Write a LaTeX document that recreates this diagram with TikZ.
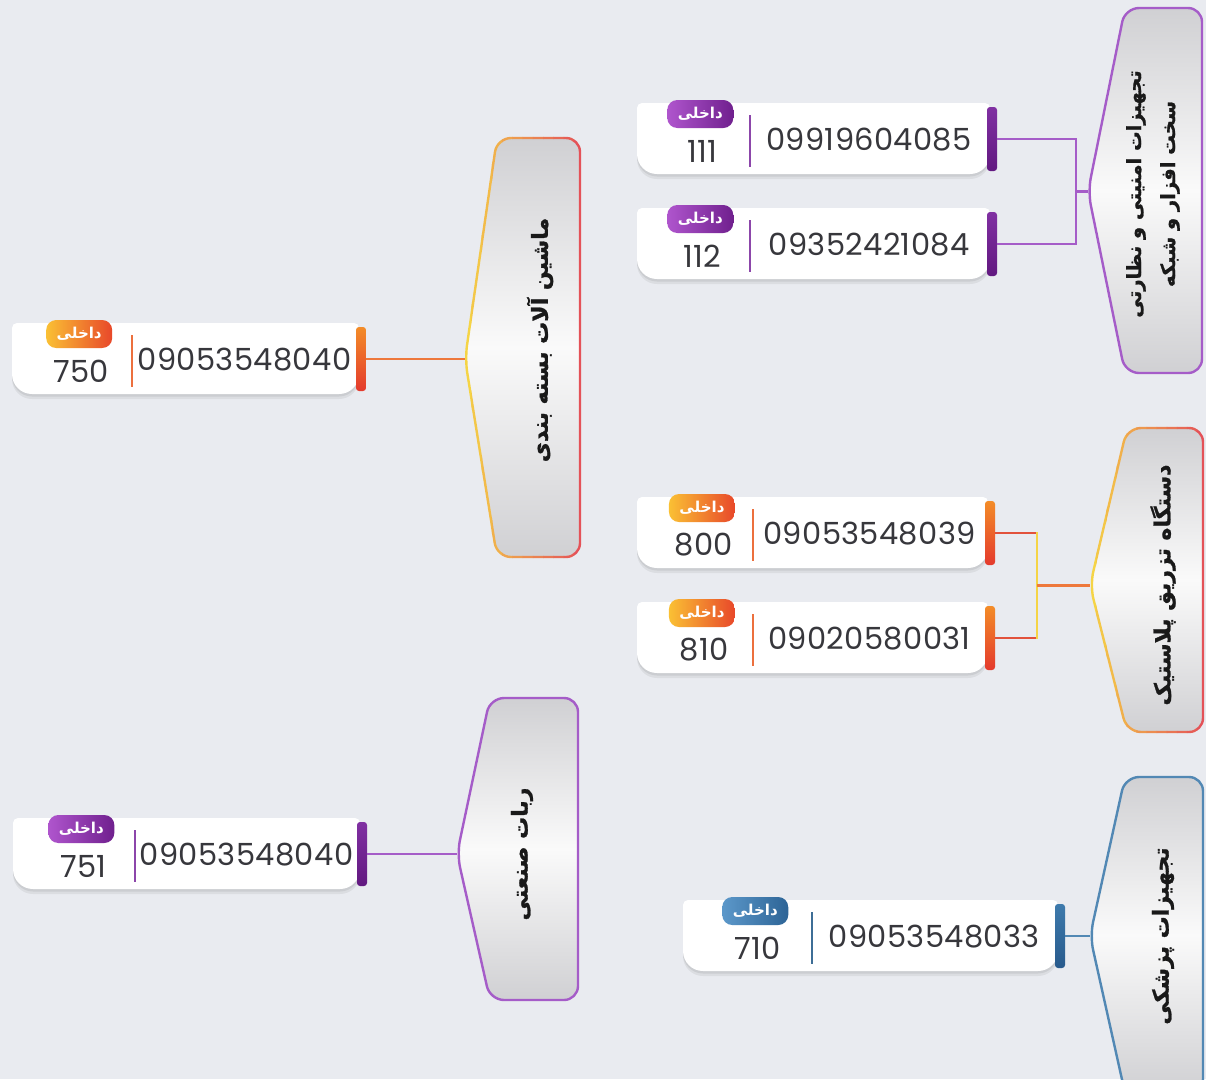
\documentclass[tikz,border=0pt]{standalone}
\usepackage{fontspec}
\TeXXeTstate=1
\newfontfamily\arabicfont[Script=Arabic]{DejaVu Sans}
\newfontfamily\catfont[Script=Arabic, BoldFeatures={FakeBold=1.2}]{DejaVu Sans}
\newfontfamily\numfont[LetterSpace=1.2]{Poppins}
\definecolor{bgc}{RGB}{233,235,240}
\definecolor{numc}{RGB}{55,55,60}
\definecolor{catc}{RGB}{25,25,25}
\definecolor{catg}{RGB}{208,208,211}
\definecolor{catw}{RGB}{250,250,250}
\definecolor{purA}{RGB}{175,85,205}
\definecolor{purB}{RGB}{112,32,142}
\definecolor{purBarT}{RGB}{128,48,162}
\definecolor{purBarB}{RGB}{98,25,128}
\definecolor{purSep}{RGB}{140,70,170}
\definecolor{purLine}{RGB}{165,92,200}
\definecolor{orgA}{RGB}{250,192,52}
\definecolor{orgB}{RGB}{232,72,42}
\definecolor{orgBarT}{RGB}{243,140,40}
\definecolor{orgBarB}{RGB}{228,58,45}
\definecolor{orgSep}{RGB}{236,112,62}
\definecolor{bluA}{RGB}{92,152,202}
\definecolor{bluB}{RGB}{45,100,150}
\definecolor{bluBarT}{RGB}{62,122,172}
\definecolor{bluBarB}{RGB}{40,90,140}
\definecolor{bluSep}{RGB}{62,110,150}
\definecolor{bluLine}{RGB}{82,136,180}
\definecolor{cYel}{RGB}{245,212,70}
\definecolor{cRed}{RGB}{228,82,88}
\definecolor{cRedL}{RGB}{226,82,60}
\definecolor{cOrg}{RGB}{238,120,60}

\tikzset{
  cardbar/.style={minimum width=10pt, minimum height=64pt, inner sep=0pt, rounded corners=3pt},
  badge/.style={minimum width=66pt, minimum height=28pt, inner sep=0pt, rounded corners=10pt,
    text=white, font=\arabicfont\bfseries\fontsize{15}{16}\selectfont},
  numtext/.style={text=numc, font=\numfont\fontsize{30.5}{32}\selectfont, inner sep=0pt},
  sepline/.style={minimum width=1.5pt, minimum height=52pt, inner sep=0pt},
  cattext/.style={text=catc, rotate=90, align=center, inner sep=0pt,
    font=\catfont\bfseries\fontsize{22}{34}\selectfont},
  conn/.style={line width=2.2pt},
}

\newcommand{\phonecard}[8]{%
  \pgfmathsetmacro{\pcyb}{#3+71}%
  \pgfmathsetmacro{\pcym}{#3+35}%
  \pgfmathsetmacro{\pcbx}{#2+0.56*(#5-#2)}%
  \pgfmathsetmacro{\pcpx}{(#5+#4)/2-1}%
  \begin{scope}[shift={(0,5)}]
    \fill[black,opacity=0.06] (#2,\pcym) [rounded corners=20pt] -- (#2,\pcyb) -- (#4,\pcyb) [rounded corners=5pt] -- (#4,#3) -- (#2,#3) -- cycle;
  \end{scope}
  \begin{scope}[shift={(0,2.5)}]
    \fill[black,opacity=0.07] (#2,\pcym) [rounded corners=20pt] -- (#2,\pcyb) -- (#4,\pcyb) [rounded corners=5pt] -- (#4,#3) -- (#2,#3) -- cycle;
  \end{scope}
  \fill[white] (#2,\pcym) [rounded corners=20pt] -- (#2,\pcyb) -- (#4,\pcyb) [rounded corners=5pt] -- (#4,#3) -- (#2,#3) -- cycle;
  \node[cardbar, top color=#6BarT, bottom color=#6BarB] (#1-bar) at (#4+2,#3+36) {};
  \node[badge, left color=#6A, right color=#6B] (#1-badge) at (\pcbx,#3+11) {\beginR داخلی\endR};
  \node[numtext] (#1-ext) at (\pcbx+2,#3+48) {#7};
  \node[sepline, fill=#6Sep] (#1-sep) at (#5,#3+38) {};
  \node[numtext] (#1) at (\pcpx,#3+37) {#8};
}

\newcommand{\catshape}[7]{%
  \shade[top color=catg, bottom color=catg, middle color=catw] (#2,#3) [rounded corners=14pt] -- (#4,#6) -- (#5,#6) -- (#5,#7) -- (#4,#7) -- cycle;
  \coordinate (#1-tip) at (#2,#3);
}
\newcommand{\catline}[8]{%
  \draw[line width=2.4pt, draw=#8, line join=round] (#2,#3) [rounded corners=14pt] -- (#4,#6) -- (#5,#6) -- (#5,#7) -- (#4,#7) -- cycle;
}
\newcommand{\catgrad}[9]{%
  \foreach \gi in {0,...,11}{%
    \pgfmathsetmacro{\gxa}{#2-4+\gi*(#5-#2+8)/12}%
    \pgfmathsetmacro{\gxb}{\gxa+(#5-#2+8)/12+0.6}%
    \pgfmathtruncatemacro{\gp}{100-\gi*100/11}%
    \begin{scope}
      \clip (\gxa,#6-10) rectangle (\gxb,#7+10);
      \catline{#1}{#2}{#3}{#4}{#5}{#6}{#7}{#8!\gp!#9}
    \end{scope}
  }%
}

\begin{document}
\begin{tikzpicture}[x=1pt,y=-1pt]
\useasboundingbox (0,0) rectangle (1206,1079);
\fill[bgc] (0,0) rectangle (1206,1079);

% category boxes
\catshape{cat1}{1088}{191.5}{1125}{1202}{8}{373}
\catline{cat1}{1088}{191.5}{1125}{1202}{8}{373}{purLine}
\catshape{cat2}{1090}{585.5}{1127}{1203}{428}{732}
\catgrad{cat2}{1090}{585.5}{1127}{1203}{428}{732}{cYel}{cRed}
\catshape{cat3}{1090}{936}{1125}{1203}{777}{1093}
\catline{cat3}{1090}{936}{1125}{1203}{777}{1093}{bluLine}
\catshape{cat4}{465}{359}{497}{580}{138}{557}
\catgrad{cat4}{465}{359}{497}{580}{138}{557}{cYel}{cRed}
\catshape{cat5}{457}{854}{490}{578}{698}{1000}
\catline{cat5}{457}{854}{490}{578}{698}{1000}{purLine}

\node[cattext, font=\catfont\bfseries\fontsize{19.5}{34}\selectfont] (cat1-text) at (1153,194) {\beginR تجهیزات امنیتی و نظارتی\endR\\\beginR سخت افزار و شبکه\endR};
\node[cattext] (cat2-text) at (1163,585) {\beginR دستگاه تزریق پلاستیک\endR};
\node[cattext] (cat3-text) at (1163,936) {\beginR تجهیزات پزشکی\endR};
\node[cattext] (cat4-text) at (540,340) {\beginR ماشین آلات بسته بندی\endR};
\node[cattext] (cat5-text) at (522,854) {\beginR ربات صنعتی\endR};

% cards
\phonecard{c111}{637}{103}{990}{750}{pur}{111}{09919604085}
\phonecard{c112}{637}{208}{990}{750}{pur}{112}{09352421084}
\phonecard{c750}{12}{323}{359}{132}{org}{750}{09053548040}
\phonecard{c800}{637}{497}{988}{753}{org}{800}{09053548039}
\phonecard{c810}{637}{602}{988}{753}{org}{810}{09020580031}
\phonecard{c710}{683}{900}{1058}{812}{blu}{710}{09053548033}
\phonecard{c751}{13}{818}{360}{135}{pur}{751}{09053548040}

% connectors
\coordinate (j1) at (1076,191.5);
\draw[conn, purLine] (c111-bar.east) -| (j1);
\draw[conn, purLine] (c112-bar.east) -| (j1);
\draw[conn, purLine] (j1) -- (cat1-tip);

\coordinate (j2) at (1037,585.5);
\draw[conn, cRedL] (c800-bar.east) -- (c800-bar.east -| j2);
\draw[conn, cRedL] (c810-bar.east) -- (c810-bar.east -| j2);
\draw[conn, cYel, line cap=rect] (c800-bar.east -| j2) -- (c810-bar.east -| j2);
\draw[conn, cOrg] (j2) -- (cat2-tip);

\draw[conn, bluLine] (c710-bar.east) -- (cat3-tip);
\draw[conn, cOrg] (c750-bar.east) -- (cat4-tip);
\draw[conn, purLine] (c751-bar.east) -- (cat5-tip);
\end{tikzpicture}
\end{document}
